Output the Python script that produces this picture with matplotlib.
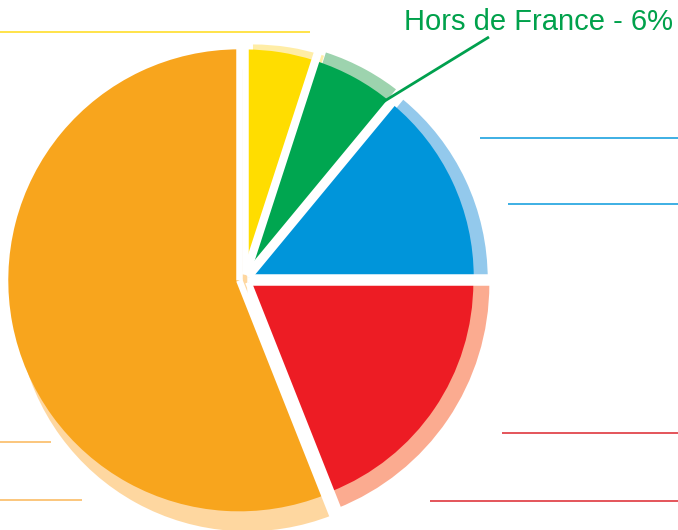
import numpy as np
import matplotlib
matplotlib.use('Agg')
import matplotlib.pyplot as plt

# share of each slice, drawn clockwise from 12 o'clock
categories = ['Jaune', 'Hors de France', 'Bleu', 'Rouge', 'Orange']
shares = [5, 6, 14, 19, 56]
colors = ['#FFDD00', '#00A650', '#0095DA', '#ED1C24', '#F8A51D']
shadow_colors = ['#FFEDA6', '#9DD3AE', '#93C9EC', '#FBAB90', '#FED7A0']
label_text = 'Hors de France - 6%'

W, H = 678, 530

def py(y):
    # pixel row (from top) -> data y
    return H - y

fig = plt.figure(figsize=(W / 100, H / 100), dpi=100)
ax = fig.add_axes([0, 0, 1, 1])

center = (244.2, py(279.4))
radius = 225
# explode is in data units here (pixels), not a fraction of the radius
explode = [5] * len(shares)
gap_lw = 6.5 * 0.72  # white gap between slices, px -> pt

# per-slice shadow shift (dx, dy in pixels, y down) and radius growth
shadow_shift = [(8, 0), (7, 0), (6, 2), (0, 2), (8, 20)]
shadow_grow = [5, 9, 8, 16, 0]
big_radius = {'Orange': 231}

shadow, _ = ax.pie(shares, colors=shadow_colors, startangle=90, counterclock=False,
                   radius=radius, center=center, explode=explode,
                   wedgeprops=dict(linewidth=0), frame=True)
main, _ = ax.pie(shares, colors=colors, startangle=90, counterclock=False,
                 radius=radius, center=center, explode=explode,
                 wedgeprops=dict(linewidth=0), frame=True)

for cat, sw, mw, (dx, dy), g in zip(categories, shadow, main, shadow_shift, shadow_grow):
    r = big_radius.get(cat, radius)
    mw.set_radius(r)
    cx, cy = sw.center
    sw.set_center((cx + dx, cy - dy))
    sw.set_radius(r + g)
    sw.set_zorder(1)
    mw.set_zorder(2)

# white gaps along the straight sides of every slice
for mw in main:
    cx, cy = mw.center
    for th in (mw.theta1, mw.theta2):
        t = np.deg2rad(th)
        ax.plot([cx, cx + (mw.r + 25) * np.cos(t)], [cy, cy + (mw.r + 25) * np.sin(t)],
                color='white', lw=gap_lw, solid_capstyle='butt', zorder=2.5)

ax.set_xlim(0, W)
ax.set_ylim(0, H)
ax.set_aspect('equal')
ax.axis('off')

# leader lines (labels for these are not shown)
leaders = [
    ((0, 310), 32.3, '#FFE03C'),
    ((480, 678), 138.3, '#2EA9E2'),
    ((508, 678), 204, '#2EA9E2'),
    ((502, 678), 433, '#E2474D'),
    ((430, 678), 500.5, '#E2474D'),
    ((0, 51), 441.5, '#FBC272'),
    ((0, 82), 500, '#FBC272'),
]
for (x0, x1), y, c in leaders:
    ax.plot([x0, x1], [py(y), py(y)], color=c, lw=1.3, solid_capstyle='butt', zorder=3)

ax.plot([383, 489], [py(102), py(37)], color='#00A04E', lw=2, solid_capstyle='butt', zorder=3)
ax.text(673, py(29.5), label_text, ha='right', va='baseline', color='#00A14B',
        fontsize=21, family=['Liberation Sans', 'DejaVu Sans'], zorder=4)

fig.savefig('out.png', dpi=100, facecolor='white')
